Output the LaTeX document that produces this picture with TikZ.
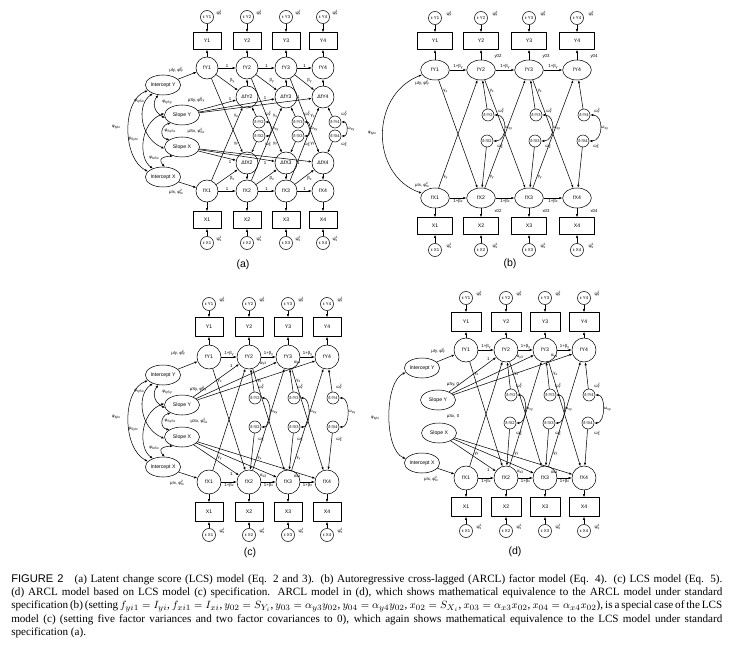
\documentclass[tikz,border=0pt]{standalone}
\usepackage{fontspec}
\setmainfont{Liberation Serif}
\setsansfont{Liberation Sans}
\usetikzlibrary{shapes.geometric,arrows.meta}
\tikzset{
  lat/.style={circle,draw,inner sep=0pt,minimum size=0.66cm},
  latw/.style={ellipse,draw,inner sep=0pt,minimum width=0.86cm,minimum height=0.6cm},
  obs/.style={rectangle,draw,inner sep=0pt,minimum width=0.84cm,minimum height=0.51cm},
  err/.style={circle,draw,inner sep=0pt,minimum size=0.39cm,font=\sffamily\fontsize{3.6}{4}\selectfont},
  dis/.style={circle,draw,inner sep=0pt,minimum size=0.36cm,font=\sffamily\fontsize{3.4}{3.8}\selectfont},
  fac/.style={ellipse,draw,inner sep=0pt,minimum width=1.05cm,minimum height=0.6cm},
  lbl/.style={inner sep=0.6pt,font=\sffamily\fontsize{3.7}{4.1}\selectfont},
  panel/.style={font=\sffamily\fontsize{9}{10}\selectfont}
}
\newcommand{\lsup}[1]{\raisebox{1.2pt}{\fontsize{2.7}{2.7}\selectfont#1}}
\newcommand{\lsub}[1]{\raisebox{-0.6pt}{\fontsize{2.9}{2.9}\selectfont#1}}
\newcommand{\lvar}[2]{#1\rlap{\lsup{2}}\lsub{#2}}
% covariances among the four growth factors, #1 = panel, #2 = shift down
\newcommand{\facarcs}[2]{%
  \draw[<->] (#1IY.200) .. controls (122,100+#2) and (122,158+#2) .. (#1IX.160);
  \draw[<->] (#1IY.220) .. controls (136,105+#2) and (140,138+#2) .. (#1SX.185);
  \draw[<->] (#1SY.175) .. controls (140,122+#2) and (138,158+#2) .. (#1IX.140);
  \draw[<->] (#1IY.245) .. controls (152,103+#2) and (154,112+#2) .. (#1SY.190);
  \draw[<->] (#1SY.215) .. controls (160,126+#2) and (160,138+#2) .. (#1SX.150);
  \draw[<->] (#1SX.225) .. controls (158,157+#2) and (160,162+#2) .. (#1IX.80);
  \node[lbl] at (116,127+#2) {φ\lsub{IyIx}};
  \node[lbl] at (139,101+#2) {φ\lsub{IySx}};
  \node[lbl] at (167,102+#2) {φ\lsub{IySy}};
  \node[lbl] at (170,131+#2) {φ\lsub{SySx}};
  \node[lbl] at (133,139+#2) {φ\lsub{SyIx}};
  \node[lbl] at (154,158+#2) {φ\lsub{IxSx}};
}
\begin{document}
\begin{tikzpicture}[x=0.03cm,y=-0.03cm,>={Latex[length=2.6pt,width=2pt]},line width=0.45pt,line join=round,font=\sffamily\fontsize{4.4}{5}\selectfont]
\useasboundingbox (0,0) rectangle (754,651);

% ---------- (a) latent change score model
\foreach \t/\x in {1/207,2/247,3/286,4/323}{
  \node[err] (aeY\t) at (\x,17) {ε Y\t};
  \node[lbl] at (\x+12,13) {\lvar{ψ}{y}};
  \node[obs] (aY\t) at (\x,41) {Y\t};
  \node[lat] (afY\t) at (\x,68) {fY\t};
  \node[lat] (afX\t) at (\x,191) {fX\t};
  \node[obs] (aX\t) at (\x,220) {X\t};
  \node[err] (aeX\t) at (\x,243) {ε X\t};
  \node[lbl] at (\x+12,239) {\lvar{ψ}{x}};
  \draw[->] (aeY\t) -- (aY\t);
  \draw[->] (afY\t) -- (aY\t);
  \draw[->] (afX\t) -- (aX\t);
  \draw[->] (aeX\t) -- (aX\t);
}
\node[fac] (aIY) at (163,85) {Intercept Y};
\node[fac] (aSY) at (182,115) {Slope Y};
\node[fac] (aSX) at (182,147) {Slope X};
\node[fac] (aIX) at (163,177) {Intercept X};
\node[lbl] at (176,70) {μIy, \lvar{φ}{Iy}};
\node[lbl] at (196,100) {μSy, \lvar{φ}{Sy}};
\node[lbl] at (196,131) {μSx, \lvar{φ}{Sx}};
\node[lbl] at (176,192) {μIx, \lvar{φ}{Ix}};
\draw[->] (aIY) -- (afY1);
\draw[->] (aIX) -- (afX1);
\facarcs{a}{0}
\foreach \t/\s/\x in {2/1/247,3/2/286,4/3/323}{
  \node[lat] (adY\t) at (\x,97) {ΔfY\t};
  \node[lat] (adX\t) at (\x,163) {ΔfX\t};
  \node[dis] (azY\t) at (\x+12,122) {δ fY\t};
  \node[dis] (azX\t) at (\x+12,136) {δ fX\t};
  \node[lbl] at (\x+21,114) {\lvar{ω}{y}};
  \node[lbl] at (\x+21,144) {\lvar{ω}{x}};
  \draw[->] (afY\s) -- node[lbl,above]{1} (afY\t);
  \draw[->] (afX\s) -- node[lbl,above]{1} (afX\t);
  \draw[->] (adY\t) -- (afY\t);
  \draw[->] (adX\t) -- (afX\t);
  \draw[->] (afY\s) -- node[lbl,pos=0.6,above right]{β\lsub{y}} (adY\t);
  \draw[->] (afX\s) -- node[lbl,pos=0.6,below right]{β\lsub{x}} (adX\t);
  \draw[->] (afX\s) -- node[lbl,pos=0.88,left]{γ\lsub{x}} (adY\t);
  \draw[->] (afY\s) -- node[lbl,pos=0.88,left]{γ\lsub{y}} (adX\t);
  \draw[->] (aSY) -- node[lbl,pos=0.9,above left]{1} (adY\t);
  \draw[->] (aSX) -- node[lbl,pos=0.9,below left]{1} (adX\t);
  \draw[->] (azY\t) -- (adY\t);
  \draw[->] (azX\t) -- (adX\t);
  \draw[<->] (azY\t.east) .. controls +(7,0) and +(7,0) .. node[lbl,right]{ω\lsub{xy}} (azX\t.east);
}
\node[panel] at (243,265) {(a)};

% ---------- (b) autoregressive cross-lagged model
\foreach \t/\x in {1/435,2/481,3/529,4/577}{
  \node[err] (beY\t) at (\x,18) {ε Y\t};
  \node[lbl] at (\x+14,14) {\lvar{ψ}{y}};
  \node[obs,minimum width=1.05cm] (bY\t) at (\x,41) {Y\t};
  \node[latw] (bfY\t) at (\x,70) {fY\t};
  \node[latw] (bfX\t) at (\x,198) {fX\t};
  \node[obs,minimum width=1.05cm] (bX\t) at (\x,226) {X\t};
  \node[err] (beX\t) at (\x,250) {ε X\t};
  \node[lbl] at (\x+14,246) {\lvar{ψ}{x}};
  \draw[->] (beY\t) -- (bY\t);
  \draw[->] (bfY\t) -- (bY\t);
  \draw[->] (bfX\t) -- (bX\t);
  \draw[->] (beX\t) -- (bX\t);
}
\foreach \t/\s/\x in {2/1/481,3/2/529,4/3/577}{
  \node[dis] (bzY\t) at (\x+7,115) {δ fY\t};
  \node[dis] (bzX\t) at (\x+6,141) {δ fX\t};
  \node[lbl] at (\x+20,111) {\lvar{ω}{y}};
  \node[lbl] at (\x+19,146) {\lvar{ω}{x}};
  \node[lbl] at (\x+17,56) {y0\t};
  \node[lbl] at (\x+17,211) {x0\t};
  \draw[->] (bfY\s) -- node[lbl,above]{1+β\lsub{y}} (bfY\t);
  \draw[->] (bfX\s) -- node[lbl,below]{1+β\lsub{x}} (bfX\t);
  \draw[->] (bfY\s) -- node[lbl,pos=0.1,right]{γ\lsub{x}} (bfX\t);
  \draw[->] (bfX\s) -- node[lbl,pos=0.1,right]{γ\lsub{y}} (bfY\t);
  \draw[->] (bzY\t) -- (bfY\t);
  \draw[->] (bzX\t) -- (bfX\t);
  \draw[<->] (bzY\t.east) .. controls +(14,0) and +(14,0) .. node[lbl,right]{ω\lsub{xy}} (bzX\t.east);
}
\draw[<->] (bfY1.200) .. controls (370,95) and (370,175) .. (bfX1.160);
\node[lbl,fill=white] at (372,133) {φ\lsub{IyIx}};
\node[lbl] at (422,83) {μIy, \lvar{φ}{Iy}};
\node[lbl] at (422,185) {μIx, \lvar{φ}{Ix}};
\node[panel] at (510,264) {(b)};

% ---------- (c) LCS model, Eq. 5
\foreach \t/\x in {1/209,2/249,3/288,4/327}{
  \node[err] (ceY\t) at (\x,304) {ε Y\t};
  \node[lbl] at (\x+13,300) {\lvar{ψ}{y}};
  \node[obs,minimum height=0.57cm] (cY\t) at (\x,327) {Y\t};
  \node[lat,minimum size=0.72cm] (cfY\t) at (\x,357) {fY\t};
  \node[lat,minimum size=0.72cm] (cfX\t) at (\x,482) {fX\t};
  \node[obs,minimum height=0.57cm] (cX\t) at (\x,512) {X\t};
  \node[err] (ceX\t) at (\x,535) {ε X\t};
  \node[lbl] at (\x+13,531) {\lvar{ψ}{x}};
  \draw[->] (ceY\t) -- (cY\t);
  \draw[->] (cfY\t) -- (cY\t);
  \draw[->] (cfX\t) -- (cX\t);
  \draw[->] (ceX\t) -- (cX\t);
}
\node[fac] (cIY) at (163,375) {Intercept Y};
\node[fac] (cSY) at (182,405) {Slope Y};
\node[fac] (cSX) at (182,437) {Slope X};
\node[fac] (cIX) at (163,467) {Intercept X};
\node[lbl] at (178,353) {μIy, \lvar{φ}{Iy}};
\node[lbl] at (198,389) {μSy, \lvar{φ}{Sy}};
\node[lbl] at (199,421) {μSx, \lvar{φ}{Sx}};
\node[lbl] at (177,483) {μIx, \lvar{φ}{Ix}};
\draw[->] (cIY) -- (cfY1);
\draw[->] (cIX) -- (cfX1);
\facarcs{c}{290}
\foreach \t/\s/\x/\ay/\ax in {2/1/249/1/1,3/2/288/α\lsub{y3}/α\lsub{x3},4/3/327/α\lsub{y4}/α\lsub{x4}}{
  \node[dis] (czY\t) at (\x+6,398) {δ fY\t};
  \node[dis] (czX\t) at (\x+6,427) {δ fX\t};
  \node[lbl] at (\x+12,387) {\lvar{ω}{y}};
  \node[lbl] at (\x+12,439) {\lvar{ω}{x}};
  \draw[->] (cfY\s) -- node[lbl,above]{1+β\lsub{y}} (cfY\t);
  \draw[->] (cfX\s) -- node[lbl,below]{1+β\lsub{x}} (cfX\t);
  \draw[->] (cfY\s) -- node[lbl,pos=0.12,right]{γ\lsub{x}} (cfX\t);
  \draw[->] (cfX\s) -- node[lbl,pos=0.12,right]{γ\lsub{y}} (cfY\t);
  \draw[->] (czY\t) -- (cfY\t);
  \draw[->] (czX\t) -- (cfX\t);
  \draw[<->] (czY\t.east) .. controls +(11,0) and +(11,0) .. node[lbl,right]{ω\lsub{xy}} (czX\t.east);
  \draw[->] (cSY) -- node[lbl,pos=0.88,above left]{\ay} (cfY\t);
  \draw[->] (cSX) -- node[lbl,pos=0.88,below left]{\ax} (cfX\t);
}
\node[panel] at (250,553) {(c)};

% ---------- (d) ARCL model based on (c)
\foreach \t/\x in {1/466,2/506,3/545,4/584}{
  \node[err] (deY\t) at (\x,298) {ε Y\t};
  \node[lbl] at (\x+13,294) {\lvar{ψ}{y}};
  \node[obs,minimum width=0.9cm,minimum height=0.57cm] (dY\t) at (\x,322) {Y\t};
  \node[lat,minimum size=0.72cm] (dfY\t) at (\x,350) {fY\t};
  \node[lat,minimum size=0.72cm] (dfX\t) at (\x,478) {fX\t};
  \node[obs,minimum width=0.9cm,minimum height=0.57cm] (dX\t) at (\x,507) {X\t};
  \node[err] (deX\t) at (\x,531) {ε X\t};
  \node[lbl] at (\x+13,527) {\lvar{ψ}{x}};
  \draw[->] (deY\t) -- (dY\t);
  \draw[->] (dfY\t) -- (dY\t);
  \draw[->] (dfX\t) -- (dX\t);
  \draw[->] (deX\t) -- (dX\t);
}
\node[fac] (dIY) at (422,368) {Intercept Y};
\node[fac] (dSY) at (438,400) {Slope Y};
\node[fac] (dSX) at (439,433) {Slope X};
\node[fac] (dIX) at (422,463) {Intercept X};
\node[lbl] at (438,351) {μIy, \lvar{φ}{Iy}};
\node[lbl] at (453,384) {μSy, 0};
\node[lbl] at (453,416) {μSx, 0};
\node[lbl] at (431,479) {μIx, \lvar{φ}{Ix}};
\draw[->] (dIY) -- (dfY1);
\draw[->] (dIX) -- (dfX1);
\draw[<->] (dIY.195) .. controls (384,382) and (384,450) .. (dIX.165);
\node[lbl] at (375,418) {φ\lsub{IyIx}};
\foreach \t/\s/\x/\ay/\ax in {2/1/506/1/1,3/2/545/α\lsub{y3}/α\lsub{x3},4/3/584/α\lsub{y4}/α\lsub{x4}}{
  \node[dis] (dzY\t) at (\x+5,395) {δ fY\t};
  \node[dis] (dzX\t) at (\x+4,423) {δ fX\t};
  \node[lbl] at (\x+13,386) {\lvar{ω}{y}};
  \node[lbl] at (\x+13,433) {\lvar{ω}{x}};
  \draw[->] (dfY\s) -- node[lbl,above]{1+β\lsub{y}} (dfY\t);
  \draw[->] (dfX\s) -- node[lbl,below]{1+β\lsub{x}} (dfX\t);
  \draw[->] (dfY\s) -- node[lbl,pos=0.12,right]{γ\lsub{x}} (dfX\t);
  \draw[->] (dfX\s) -- node[lbl,pos=0.12,right]{γ\lsub{y}} (dfY\t);
  \draw[->] (dzY\t) -- (dfY\t);
  \draw[->] (dzX\t) -- (dfX\t);
  \draw[<->] (dzY\t.east) .. controls +(11,0) and +(11,0) .. node[lbl,right]{ω\lsub{xy}} (dzX\t.east);
  \draw[->] (dSY) -- node[lbl,pos=0.88,above left]{\ay} (dfY\t);
  \draw[->] (dSX) -- node[lbl,pos=0.88,below left]{\ax} (dfX\t);
}
\node[panel] at (515,552) {(d)};

% ---------- caption
\node[anchor=north west,inner sep=0pt,text width=21.33cm,align=justify,font=\rmfamily\fontsize{9.5}{11.4}\selectfont] (figcap) at (11,574)
{\textsf{FIGURE 2}\quad (a) Latent change score (LCS) model (Eq. 2 and 3). (b) Autoregressive cross-lagged (ARCL) factor model (Eq. 4). (c) LCS model (Eq. 5).\linebreak
(d) ARCL model based on LCS model (c) specification. ARCL model in (d), which shows mathematical equivalence to the ARCL model under standard\linebreak
specification (b) (setting $f_{yi1}=I_{yi}$, $f_{xi1}=I_{xi}$, $y_{02}=S_{Y_i}$, $y_{03}=\alpha_{y3}y_{02}$, $y_{04}=\alpha_{y4}y_{02}$, $x_{02}=S_{X_i}$, $x_{03}=\alpha_{x3}x_{02}$, $x_{04}=\alpha_{x4}x_{02}$), is a special case of the LCS\linebreak
model (c) (setting five factor variances and two factor covariances to 0), which again shows mathematical equivalence to the LCS model under standard\linebreak
specification (a).};
\end{tikzpicture}
\end{document}
